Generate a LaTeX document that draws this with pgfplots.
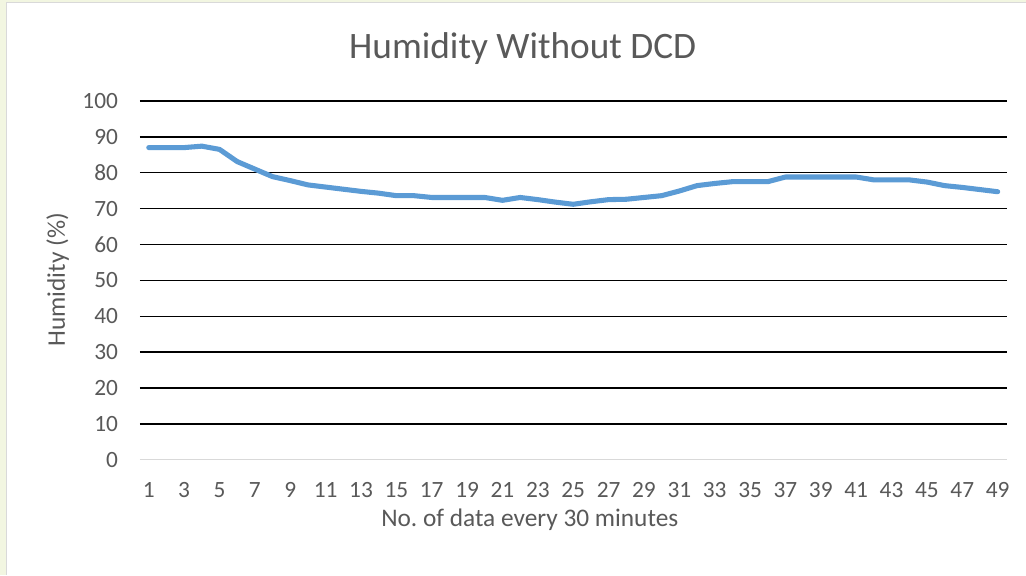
\documentclass[border=0pt]{standalone}
\usepackage{fontspec}
\setmainfont{Carlito}
\usepackage{pgfplots}
\pgfplotsset{compat=1.18}
\definecolor{lineblue}{HTML}{5B9BD5}
\definecolor{txtgray}{HTML}{595959}
\definecolor{zerogray}{HTML}{D9D9D9}
\definecolor{bggreen}{HTML}{F2F6E1}

\pgfplotstableread{
n hum
1 87.0
2 87.0
3 87.0
4 87.4
5 86.5
6 83.1
7 81.0
8 78.9
9 77.8
10 76.6
11 76.0
12 75.4
13 74.8
14 74.3
15 73.6
16 73.6
17 73.1
18 73.1
19 73.1
20 73.1
21 72.3
22 73.1
23 72.5
24 71.8
25 71.2
26 71.9
27 72.5
28 72.6
29 73.1
30 73.6
31 74.9
32 76.4
33 77.0
34 77.5
35 77.5
36 77.5
37 78.8
38 78.8
39 78.8
40 78.8
41 78.8
42 78.0
43 78.0
44 78.0
45 77.4
46 76.4
47 75.9
48 75.3
49 74.7
}\humdata

\begin{document}
\begin{tikzpicture}[x=0.75pt,y=0.75pt]
% chart frame
\fill[bggreen] (0,0) rectangle (1026,575);
\fill[white] (7,0) rectangle (1026,572.5);
\draw[zerogray, line width=0.75pt] (7,0) -- (7,572.5) -- (1026,572.5);

\begin{axis}[
  at={(105pt,86.25pt)}, anchor=south west,
  scale only axis,
  width=650.25pt, height=269.25pt,
  xmin=0.5, xmax=49.5,
  ymin=0, ymax=100,
  xtick={1,3,...,49},
  ytick={10,20,...,100},
  extra y ticks={0},
  extra y tick style={major grid style={zerogray, line width=1pt}},
  ymajorgrids=true,
  major grid style={black, line width=1.1pt},
  axis line style={draw=none},
  tick style={draw=none},
  font=\fontsize{17.5}{20}\selectfont,
  tick label style={text=txtgray},
  /pgf/number format/assume math mode=true,
  x tick label style={yshift=-13.5pt},
  y tick label style={xshift=-13pt},
  clip=false,
]
\addplot[lineblue, line width=3.8pt, line join=round, line cap=round]
  table[x=n, y=hum] {\humdata};
\end{axis}

\node[anchor=base, text=txtgray, font=\fontsize{28}{32}\selectfont] at (523,516.7) {Humidity Without DCD};
\node[anchor=base, text=txtgray, font=\fontsize{19}{22}\selectfont] at (530,48.3) {No.\ of data every 30 minutes};
\node[anchor=base, rotate=90, text=txtgray, font=\fontsize{19}{22}\selectfont] at (65,295) {Humidity (\%)};
\end{tikzpicture}
\end{document}
